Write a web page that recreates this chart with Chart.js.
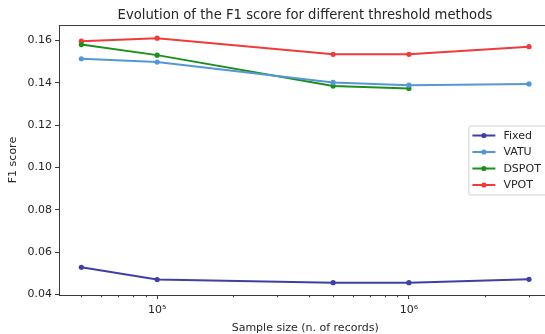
<!DOCTYPE html>
<html>
<head>
<meta charset="utf-8">
<script src="https://cdn.jsdelivr.net/npm/chart.js@4/dist/chart.umd.min.js"></script>
<style>
  html, body { margin: 0; padding: 0; background: #fff; overflow: hidden; }
  #wrap { width: 610px; height: 334px; position: relative; }
</style>
</head>
<body>
<div id="wrap"><canvas id="c"></canvas></div>
<script>
// ---- data ----
const sampleSizes = [5e4, 1e5, 5e5, 1e6, 3e6];
const fixedF1 = [0.0529, 0.0471, 0.0456, 0.0456, 0.0472];
const vatuF1  = [0.1513, 0.1497, 0.1401, 0.1388, 0.1394];
const dspotF1 = [0.1580, 0.1530, 0.1384, 0.1373];
const vpotF1  = [0.1596, 0.1610, 0.1534, 0.1534, 0.1570];
const seriesNames = ['Fixed', 'VATU', 'DSPOT', 'VPOT'];
const yTickValues = [0.04, 0.06, 0.08, 0.10, 0.12, 0.14, 0.16];
const xMajorTicks = [1e5, 1e6];
const xMajorLabels = ['10\u2075', '10\u2076'];
const xMinorTicks = [5e4, 6e4, 7e4, 8e4, 9e4, 2e5, 3e5, 4e5, 5e5, 6e5, 7e5, 8e5, 9e5, 2e6, 3e6];

const colors = ['#3f3fa6', '#5597d6', '#1c8f1c', '#ef3b3b'];
const TXT = '#262626';
const FONT = 'DejaVu Sans';

function pts(vals) { return vals.map((v, i) => ({ x: sampleSizes[i], y: v })); }
const allSeries = [fixedF1, vatuF1, dspotF1, vpotF1];

const datasets = allSeries.map((s, i) => ({
  label: seriesNames[i],
  data: pts(s),
  borderColor: colors[i],
  backgroundColor: colors[i],
  borderWidth: 2,
  pointRadius: 2.6,
  pointBorderWidth: 0,
  pointBackgroundColor: colors[i],
  tension: 0,
  fill: false
}));

const frameAndMinor = {
  id: 'frameAndMinor',
  afterDraw(chart) {
    const { ctx, chartArea: a, scales } = chart;
    ctx.save();
    ctx.strokeStyle = '#3a3a3a';
    ctx.lineWidth = 1;
    // top and right spines
    ctx.beginPath();
    ctx.moveTo(a.left, a.top + 0.5);
    ctx.lineTo(a.right, a.top + 0.5);
    ctx.lineTo(a.right, a.bottom);
    ctx.stroke();
    // minor x ticks
    const xs = scales.x;
    ctx.beginPath();
    xMinorTicks.forEach(v => {
      const px = Math.round(xs.getPixelForValue(v)) + 0.5;
      ctx.moveTo(px, a.bottom);
      ctx.lineTo(px, a.bottom + 2.2);
    });
    ctx.stroke();
    // legend (matplotlib-style, center right)
    const rowH = 16.5;
    const boxW = 78, boxH = 69;
    const bx = a.right - 5 - boxW;
    const by = (a.top + a.bottom) / 2 - boxH / 2;
    ctx.globalAlpha = 0.8;
    ctx.fillStyle = '#ffffff';
    ctx.beginPath();
    ctx.roundRect(bx + 0.5, by + 0.5, boxW, boxH, 2);
    ctx.fill();
    ctx.globalAlpha = 1;
    ctx.strokeStyle = '#d0d0d0';
    ctx.stroke();
    ctx.font = '11px "' + FONT + '"';
    ctx.textBaseline = 'middle';
    ctx.textAlign = 'left';
    chart.data.datasets.forEach((ds, i) => {
      const cy = by + 10 + i * rowH;
      ctx.strokeStyle = ds.borderColor;
      ctx.lineWidth = 2;
      ctx.beginPath();
      ctx.moveTo(bx + 4, cy);
      ctx.lineTo(bx + 27, cy);
      ctx.stroke();
      ctx.fillStyle = ds.borderColor;
      ctx.beginPath();
      ctx.arc(bx + 15.5, cy, 2.6, 0, Math.PI * 2);
      ctx.fill();
      ctx.fillStyle = TXT;
      ctx.fillText(ds.label, bx + 35, cy + 0.5);
    });
    ctx.restore();
  }
};

new Chart(document.getElementById('c'), {
  type: 'line',
  data: { datasets },
  options: {
    responsive: true,
    maintainAspectRatio: false,
    animation: false,
    layout: { padding: 0 },
    plugins: {
      legend: { display: false },
      tooltip: { enabled: false },
      title: {
        display: true,
        text: 'Evolution of the F1 score for different threshold methods',
        color: TXT,
        font: { family: FONT, size: 13.2, weight: 'normal', lineHeight: 1.2 },
        padding: { top: 7.7, bottom: 1.5 }
      }
    },
    scales: {
      x: {
        type: 'logarithmic',
        position: 'bottom',
        min: 40760,
        max: 3681000,
        afterBuildTicks(scale) {
          scale.ticks = xMajorTicks.map(v => ({ value: v }));
        },
        afterFit(scale) { scale.height = 39; },
        ticks: {
          autoSkip: false,
          maxRotation: 0,
          color: TXT,
          padding: 5,
          font: { family: FONT, size: 11 },
          callback: (v) => {
            const k = xMajorTicks.indexOf(v);
            return k >= 0 ? xMajorLabels[k] : '';
          }
        },
        grid: { display: true, drawOnChartArea: false, drawTicks: true, tickLength: 4, color: '#3a3a3a', tickColor: '#3a3a3a' },
        border: { display: true, color: '#3a3a3a', width: 1 },
        title: {
          display: true,
          text: 'Sample size (n. of records)',
          color: TXT,
          font: { family: FONT, size: 11, lineHeight: 1.1 },
          padding: { top: 0, bottom: 0 }
        }
      },
      y: {
        type: 'linear',
        position: 'left',
        min: 0.0398,
        max: 0.1672,
        afterBuildTicks(scale) {
          scale.ticks = yTickValues.map(v => ({ value: v }));
        },
        afterFit(scale) { scale.width = 59; },
        ticks: {
          color: TXT,
          padding: 3,
          font: { family: FONT, size: 11 },
          callback: (v) => v.toFixed(2)
        },
        grid: { display: true, drawOnChartArea: false, drawTicks: true, tickLength: 4, color: '#3a3a3a', tickColor: '#3a3a3a' },
        border: { display: true, color: '#3a3a3a', width: 1 },
        title: {
          display: true,
          text: 'F1 score',
          color: TXT,
          font: { family: FONT, size: 11, lineHeight: 1.2 },
          padding: { top: 6.4, bottom: 0 }
        }
      },
      yR: {
        type: 'linear',
        position: 'right',
        display: true,
        min: 0, max: 1,
        afterFit(scale) { scale.width = 58.6; },
        ticks: { display: false },
        grid: { display: false, drawTicks: false },
        border: { display: false }
      }
    }
  },
  plugins: [frameAndMinor]
});
</script>
</body>
</html>
